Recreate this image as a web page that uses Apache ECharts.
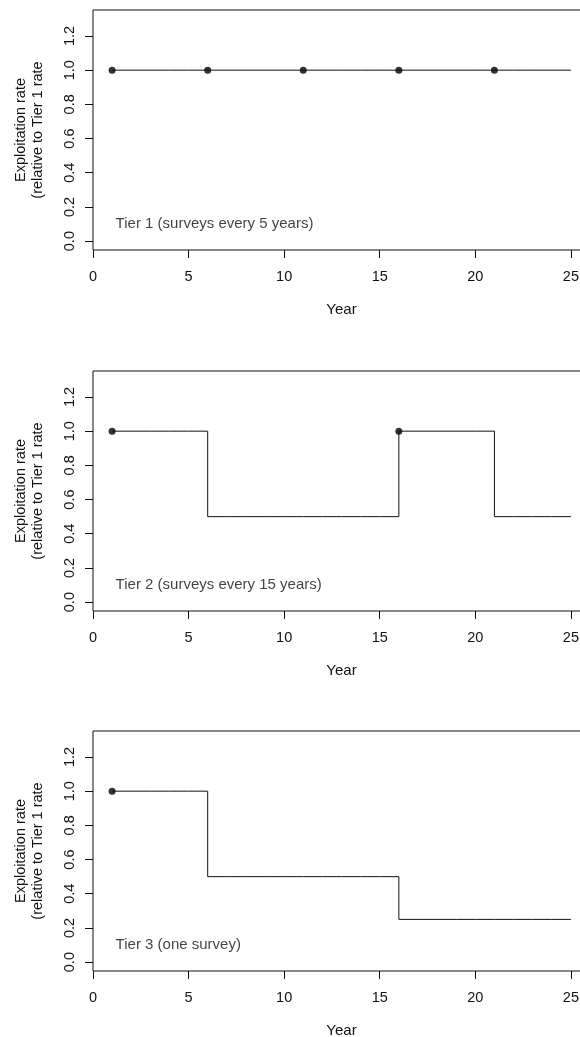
<!DOCTYPE html>
<html>
<head>
<meta charset="utf-8">
<script src="https://cdn.jsdelivr.net/npm/echarts@6/dist/echarts.min.js"></script>
<style>
  html, body { margin: 0; padding: 0; background: #fff; }
  #chart { width: 580px; height: 1037px; }
</style>
</head>
<body>
<div id="chart"></div>
<script>
// ---- data ----
const years = [1,2,3,4,5,6,7,8,9,10,11,12,13,14,15,16,17,18,19,20,21,22,23,24,25];
const tier1Rate = [1,1,1,1,1,1,1,1,1,1,1,1,1,1,1,1,1,1,1,1,1,1,1,1,1];
const tier2Rate = [1,1,1,1,1,0.5,0.5,0.5,0.5,0.5,0.5,0.5,0.5,0.5,0.5,1,1,1,1,1,0.5,0.5,0.5,0.5,0.5];
const tier3Rate = [1,1,1,1,1,0.5,0.5,0.5,0.5,0.5,0.5,0.5,0.5,0.5,0.5,0.25,0.25,0.25,0.25,0.25,0.25,0.25,0.25,0.25,0.25];
const tier1Surveys = [1,6,11,16,21];
const tier2Surveys = [1,16];
const tier3Surveys = [1];
const tierLabels = ["Tier 1 (surveys every 5 years)", "Tier 2 (surveys every 15 years)", "Tier 3 (one survey)"];
const xTicks = [0,5,10,15,20,25];
const yTicks = [0,0.2,0.4,0.6,0.8,1.0,1.2];
const xTitle = "Year";
const yTitle = "Exploitation rate\n(relative to Tier 1 rate";

// ---- chart ----
const FONT = "'Liberation Sans', Arial, sans-serif";
const INK = '#111';
const rates = [tier1Rate, tier2Rate, tier3Rate];
const surveys = [tier1Surveys, tier2Surveys, tier3Surveys];
const tops = [10, 371, 731];
const H = 240;

const grids = [], xAxes = [], yAxes = [], series = [];
for (let i = 0; i < 3; i++) {
  grids.push({ left: 93, width: 497, top: tops[i], height: H, show: true,
    outerBoundsMode: 'none', containLabel: false,
    borderColor: INK, borderWidth: 1, backgroundColor: 'transparent' });
  xAxes.push({
    type: 'value', gridIndex: i, min: 0, max: 26, position: 'bottom',
    name: xTitle, nameLocation: 'middle', nameGap: 52,
    nameTextStyle: { fontFamily: FONT, fontSize: 15, color: INK },
    axisLine: { show: false, onZero: false },
    splitLine: { show: false },
    axisTick: { show: true, inside: false, length: 8, lineStyle: { color: INK }, customValues: xTicks },
    axisLabel: { show: true, margin: 19, fontFamily: FONT, fontSize: 14.5, color: INK,
      customValues: xTicks, formatter: v => String(v) }
  });
  yAxes.push({
    type: 'value', gridIndex: i, min: -0.052, max: 1.352, position: 'left',
    name: yTitle, nameLocation: 'middle', nameGap: 47,
    nameTextStyle: { fontFamily: FONT, fontSize: 14.5, color: INK, lineHeight: 17 },
    axisLine: { show: false, onZero: false },
    splitLine: { show: false },
    axisTick: { show: true, inside: false, length: 8, lineStyle: { color: INK }, customValues: yTicks },
    axisLabel: { show: true, rotate: 90, margin: 16, fontFamily: FONT, fontSize: 14.5, color: INK,
      customValues: yTicks, formatter: v => v.toFixed(1) }
  });
  series.push({
    type: 'line', xAxisIndex: i, yAxisIndex: i, step: 'end',
    data: years.map((y, k) => [y, rates[i][k]]),
    showSymbol: false, symbol: 'none', silent: true,
    lineStyle: { color: INK, width: 1 }
  });
  series.push({
    type: 'scatter', xAxisIndex: i, yAxisIndex: i,
    data: surveys[i].map(y => [y, rates[i][years.indexOf(y)]]),
    symbol: 'circle', symbolSize: 7, itemStyle: { color: '#000' }, silent: true
  });
  series.push({
    type: 'scatter', xAxisIndex: i, yAxisIndex: i,
    data: [[1, 0.1]], symbolSize: 1, itemStyle: { color: 'rgba(0,0,0,0)' }, silent: true,
    label: { show: true, position: 'right', distance: 3, formatter: tierLabels[i],
      fontFamily: FONT, fontSize: 15, color: INK }
  });
}

const chart = echarts.init(document.getElementById('chart'), null, { renderer: 'canvas' });
chart.setOption({
  animation: false,
  backgroundColor: '#fff',
  grid: grids, xAxis: xAxes, yAxis: yAxes, series: series
});
</script>
</body>
</html>
